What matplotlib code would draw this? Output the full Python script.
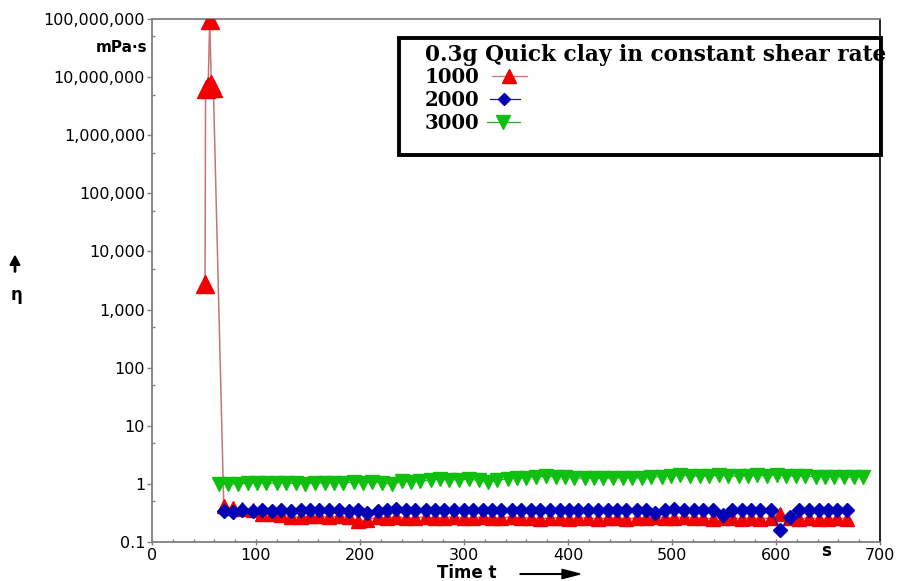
import matplotlib
matplotlib.use("Agg")
import matplotlib.pyplot as plt
from matplotlib.lines import Line2D
from matplotlib.patches import Rectangle, FancyArrow
from matplotlib.ticker import FixedLocator, FuncFormatter, MultipleLocator

# ---- data -------------------------------------------------------------
# shear rate 1000: start-up spike followed by the steady regime
time_1000 = [51, 51.5, 54, 55.5, 57, 59,
             69, 78, 87, 97, 106, 115, 124, 134, 143, 152,
             161, 170, 180, 189, 198, 207, 217, 226, 235, 244,
             253, 263, 272, 281, 290, 300, 309, 318, 327, 336,
             346, 355, 364, 373, 383, 392, 401, 410, 419, 429,
             438, 447, 456, 466, 475, 484, 493, 502, 512, 521,
             530, 539, 549, 558, 567, 576, 585, 595, 604, 613,
             622, 632, 641, 650, 659, 668]
eta_1000 = [2800, 6.2e6, 7.0e6, 9.6e7, 7.6e6, 6.5e6,
            0.42, 0.38, 0.37, 0.36, 0.30, 0.30, 0.29, 0.27, 0.27, 0.28,
            0.28, 0.27, 0.28, 0.27, 0.23, 0.24, 0.27, 0.26, 0.27, 0.26,
            0.26, 0.27, 0.26, 0.26, 0.27, 0.26, 0.26, 0.27, 0.26, 0.26,
            0.27, 0.26, 0.26, 0.25, 0.26, 0.26, 0.25, 0.26, 0.26, 0.25,
            0.26, 0.26, 0.25, 0.26, 0.26, 0.27, 0.26, 0.26, 0.27, 0.26,
            0.26, 0.25, 0.26, 0.26, 0.25, 0.26, 0.25, 0.26, 0.30, 0.26,
            0.25, 0.26, 0.25, 0.25, 0.26, 0.25]
n_spike = 6

time_2000 = [69, 78, 87, 97, 106, 115, 124, 134, 143, 152,
             161, 170, 180, 189, 198, 207, 217, 226, 235, 244,
             253, 263, 272, 281, 290, 300, 309, 318, 327, 336,
             346, 355, 364, 373, 383, 392, 401, 410, 419, 429,
             438, 447, 456, 466, 475, 484, 493, 502, 512, 521,
             530, 539, 549, 558, 567, 576, 585, 595, 604, 613,
             622, 632, 641, 650, 659, 668]
eta_2000 = [0.34, 0.33, 0.35, 0.34, 0.35, 0.34, 0.35, 0.34, 0.35, 0.35,
            0.36, 0.35, 0.35, 0.34, 0.35, 0.31, 0.34, 0.36, 0.37, 0.36,
            0.36, 0.35, 0.36, 0.36, 0.35, 0.36, 0.36, 0.35, 0.36, 0.36,
            0.36, 0.36, 0.35, 0.36, 0.36, 0.36, 0.35, 0.36, 0.36, 0.36,
            0.36, 0.35, 0.36, 0.36, 0.35, 0.32, 0.36, 0.37, 0.36, 0.36,
            0.36, 0.36, 0.29, 0.36, 0.36, 0.36, 0.36, 0.35, 0.16, 0.27,
            0.35, 0.36, 0.35, 0.36, 0.35, 0.36]

time_3000 = [64, 73, 83, 92, 101, 110, 120, 129, 138, 147,
             157, 166, 175, 184, 194, 203, 212, 221, 231, 240,
             249, 258, 268, 277, 286, 295, 305, 314, 323, 332,
             342, 351, 360, 369, 379, 388, 397, 406, 416, 425,
             434, 443, 453, 462, 471, 480, 490, 499, 508, 517,
             527, 536, 545, 554, 564, 573, 582, 591, 601, 610,
             619, 628, 638, 647, 656, 665, 675, 684]
eta_3000 = [1.00, 0.98, 1.00, 1.02, 1.03, 1.02, 1.04, 1.03, 1.02, 1.00,
            1.03, 1.04, 1.05, 1.05, 1.06, 1.05, 1.06, 1.04, 0.98, 1.10,
            1.08, 1.10, 1.18, 1.20, 1.18, 1.17, 1.20, 1.15, 1.08, 1.15,
            1.22, 1.25, 1.28, 1.32, 1.35, 1.33, 1.32, 1.28, 1.25, 1.27,
            1.26, 1.25, 1.28, 1.26, 1.27, 1.30, 1.34, 1.38, 1.40, 1.38,
            1.35, 1.37, 1.40, 1.38, 1.36, 1.38, 1.40, 1.38, 1.42, 1.38,
            1.36, 1.35, 1.34, 1.32, 1.33, 1.31, 1.30, 1.32]

y_ticks = [0.1, 1, 10, 100, 1e3, 1e4, 1e5, 1e6, 1e7, 1e8]
x_ticks = [0, 100, 200, 300, 400, 500, 600, 700]
legend_title = "0.3g Quick clay in constant shear rate"
legend_labels = ["1000", "2000", "3000"]

# ---- style ------------------------------------------------------------
RED, RED_LINE = "#f00000", "#c87474"
BLUE, BLUE_LINE = "#0000b4", "#1a1aa0"
GREEN, GREEN_LINE = "#10c010", "#20b020"
GRAY = "#7f7f7f"
SANS = "DejaVu Sans"
SERIF = "DejaVu Serif"

W, H = 899, 581
fig = plt.figure(figsize=(W / 100, H / 100), dpi=100)
fig.patch.set_facecolor("white")


def fx(x):
    return x / W


def fy(y):
    return 1 - y / H


ax = fig.add_axes([fx(152), fy(542), (880 - 152) / W, (542 - 19) / H])
ax.set_yscale("log")
ax.set_xlim(0, 700)
ax.set_ylim(0.1, 1e8)

# series
ax.plot(time_1000, eta_1000, color=RED_LINE, lw=1.1, zorder=2)
ax.plot(time_1000[:n_spike], eta_1000[:n_spike], ls="none", marker="^",
        ms=12.5, color=RED, zorder=3)
ax.plot(time_1000[n_spike:], eta_1000[n_spike:], ls="none", marker="^",
        ms=10, color=RED, zorder=3)
ax.plot(time_2000, eta_2000, color=BLUE_LINE, lw=0.9, marker="D", ms=7,
        mfc=BLUE, mec=BLUE, zorder=4)
ax.plot(time_3000, eta_3000, color=GREEN_LINE, lw=0.9, marker="v", ms=10.5,
        mfc=GREEN, mec=GREEN, zorder=5)

# spines
for side in ("left", "bottom", "top"):
    ax.spines[side].set_color(GRAY)
    ax.spines[side].set_linewidth(1.3)
ax.spines["right"].set_color("black")
ax.spines["right"].set_linewidth(1.2)

# ticks
ax.yaxis.set_major_locator(FixedLocator(y_ticks))
ax.yaxis.set_minor_locator(FixedLocator([5 * v for v in y_ticks[:-1]]))
ax.yaxis.set_major_formatter(
    FuncFormatter(lambda v, p: "0.1" if v < 1 else f"{v:,.0f}"))
ax.xaxis.set_major_locator(FixedLocator(x_ticks))
ax.xaxis.set_minor_locator(MultipleLocator(20))
ax.tick_params(axis="y", which="major", direction="out", length=3.5,
               width=1, color=GRAY, pad=1.5, labelsize=11.5)
ax.tick_params(axis="y", which="minor", direction="in", length=2.5,
               width=1, color=GRAY)
ax.tick_params(axis="x", which="major", direction="inout", length=5,
               width=1, color=GRAY, pad=2, labelsize=11.5)
ax.tick_params(axis="x", which="minor", direction="in", length=2.5,
               width=1, color=GRAY)
for lab in ax.get_xticklabels() + ax.get_yticklabels():
    lab.set_family(SANS)

# axis annotations
fig.text(fx(147), fy(47), "mPa·s", ha="right", va="center",
         fontsize=11, fontweight="bold", family=SANS)
fig.text(fx(16), fy(295), "η", ha="center", va="center",
         fontsize=12, fontweight="bold", family=SANS)
fig.add_artist(FancyArrow(fx(15), fy(272), 0, (272 - 256) / H,
                          width=0.0015, head_width=0.011,
                          head_length=0.016, length_includes_head=True,
                          color="black", transform=fig.transFigure))
fig.text(fx(467), fy(573), "Time t", ha="center", va="center",
         fontsize=12, fontweight="bold", family=SANS)
fig.add_artist(FancyArrow(fx(520), fy(574), (580 - 520) / W, 0,
                          width=0.0012, head_width=0.016,
                          head_length=0.02, length_includes_head=True,
                          color="black", transform=fig.transFigure))
fig.text(fx(826), fy(551), "s", ha="center", va="center",
         fontsize=12, fontweight="bold", family=SANS)

# legend box
fig.add_artist(Rectangle((fx(399), fy(155)), (881 - 399) / W,
                         (155 - 38) / H, transform=fig.transFigure,
                         fill=False, ec="black", lw=2.8, zorder=10))
title = fig.text(fx(425), fy(61), legend_title, ha="left", va="baseline",
                 fontsize=14, fontweight="bold", family=SERIF, zorder=11)
renderer = fig.canvas.get_renderer()
width_px = title.get_window_extent(renderer).width
title.set_fontsize(14 * 462 / width_px)

baselines = [83, 106, 129]
samples = [
    (RED_LINE, RED, "^", 10, 492, 527, 509),
    (BLUE_LINE, BLUE, "D", 6.5, 490, 520, 504),
    (GREEN_LINE, GREEN, "v", 10, 487, 520, 503),
]
for label, base, (lc, mc, mk, ms, x0, x1, xm) in zip(legend_labels,
                                                      baselines, samples):
    fig.text(fx(425), fy(base), label, ha="left", va="baseline",
             fontsize=14.2, fontweight="bold", family=SERIF, zorder=11)
    yc = base - 7
    fig.add_artist(Line2D([fx(x0), fx(x1)], [fy(yc), fy(yc)], color=lc,
                          lw=0.9, transform=fig.transFigure, zorder=11))
    fig.add_artist(Line2D([fx(xm)], [fy(yc)], ls="none", marker=mk, ms=ms,
                          color=mc, transform=fig.transFigure, zorder=12))

fig.savefig("out.png", dpi=100, facecolor="white")
